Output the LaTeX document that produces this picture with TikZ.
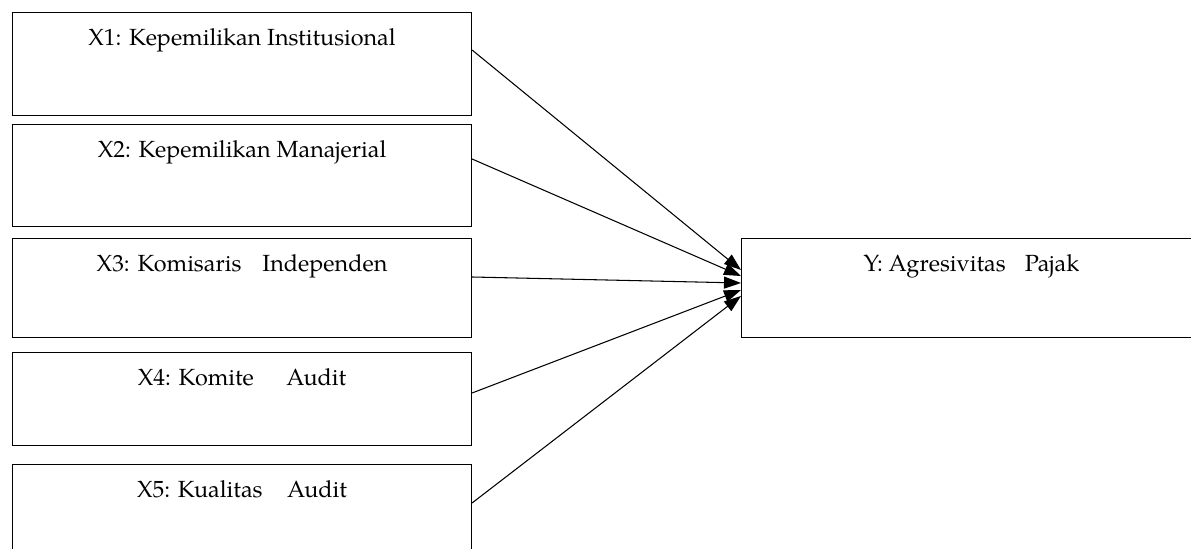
\documentclass[tikz,border=0pt]{standalone}
\usepackage{fontspec}
\setmainfont{TeX Gyre Pagella}
\usepackage{tikz}
\usetikzlibrary{arrows.meta, positioning}

\begin{document}
\begin{tikzpicture}[
      varbox/.style={draw, line width=0.6pt, inner sep=0pt, minimum width=9.18cm,
                     text height=0.66cm, text depth=#1, anchor=north west,
                     font=\fontsize{13.3pt}{15pt}\selectfont},
      arr/.style={line width=0.6pt, -{Triangle[length=0.34cm, width=0.24cm]}}]
    \clip (0,0) rectangle (23.82,-10.98);
    % variabel bebas
    \node[varbox=1.40cm] (x1) at (0.24,-0.24) {X1: Kepemilikan Institusional};
    \node[varbox=1.38cm] (x2) at (0.24,-2.48) {X2: Kepemilikan Manajerial};
    \node[varbox=1.32cm] (x3) at (0.24,-4.76) {X3: Komisaris\hspace{12pt}Independen};
    \node[varbox=1.20cm] (x4) at (0.24,-7.04) {X4: Komite\hspace{18.5pt}Audit};
    \node[varbox=1.40cm] (x5) at (0.24,-9.28) {X5: Kualitas\hspace{14pt}Audit};
    % variabel terikat
    \node[varbox=1.32cm, minimum width=9.2cm] (y) at (14.82,-4.76) {Y: Agresivitas\hspace{10.8pt}Pajak};
    \foreach \a/\s/\e in {x1/0.76/0.64, x2/0.70/0.76, x3/0.78/0.90,
                          x4/0.82/1.04, x5/0.78/1.16}
      \draw[arr] ([yshift=-\s cm]\a.north east) -- ([yshift=-\e cm]y.north west);
  \end{tikzpicture}
\end{document}
